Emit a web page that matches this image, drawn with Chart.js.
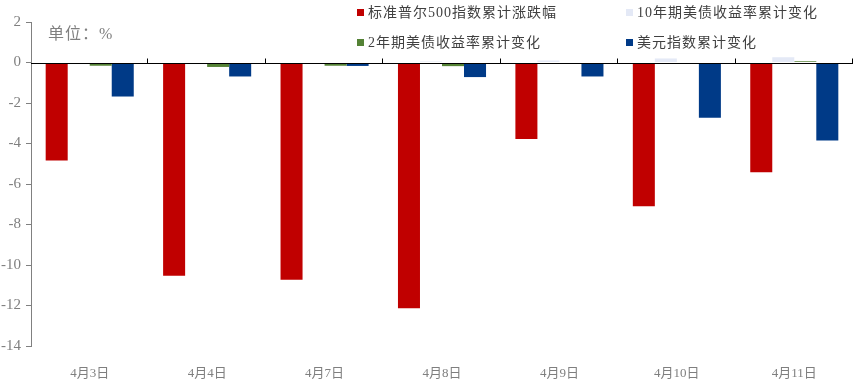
<!DOCTYPE html>
<html>
<head>
<meta charset="utf-8">
<script src="https://cdn.jsdelivr.net/npm/chart.js@4"></script>
<style>
  body { margin: 0; background: #fff; }
  #wrap { position: relative; width: 855px; height: 385px; }
  #c { position: absolute; left: 0; top: 0; }
  .lg { position: absolute; font-family: 'Liberation Serif', 'Noto Sans CJK SC', serif; font-size: 14px; color: #404040; letter-spacing: 1px; white-space: nowrap; line-height: 16px; }
  .lg i { display: inline-block; width: 7px; height: 7px; margin-right: 4px; vertical-align: 1px; }
  #unit { position: absolute; left: 48px; top: 20px; font-family: 'Liberation Serif', 'Noto Sans CJK SC', serif; font-size: 16px; color: #7f7f7f; letter-spacing: 1px; }
</style>
</head>
<body>
<div id="wrap">
  <canvas id="c" width="855" height="385"></canvas>
  <div id="unit">单位：%</div>
  <div id="legend"></div>
</div>
<script>
const fechas = ["4月3日", "4月4日", "4月7日", "4月8日", "4月9日", "4月10日", "4月11日"];
const sp500 = [-4.84, -10.53, -10.73, -12.14, -3.78, -7.10, -5.42];
const bono10 = [-0.08, -0.08, 0, 0.05, 0.1, 0.2, 0.26];
const bono2 = [-0.16, -0.22, -0.16, -0.18, 0, -0.05, 0.06];
const dolar = [-1.68, -0.69, -0.17, -0.72, -0.69, -2.73, -3.85];
const ticksY = [2, 0, -2, -4, -6, -8, -10, -12, -14];

const series = [
  { label: "标准普尔500指数累计涨跌幅", data: sp500, color: "#C00000" },
  { label: "10年期美债收益率累计变化", data: bono10, color: "#E4E9F6" },
  { label: "2年期美债收益率累计变化", data: bono2, color: "#548235" },
  { label: "美元指数累计变化", data: dolar, color: "#003A87" }
];

// Leyenda en dos filas
const posLeyenda = [[357, 5], [626, 5], [357, 35], [626, 35]];
const legendEl = document.getElementById("legend");
series.forEach((s, i) => {
  const d = document.createElement("div");
  d.className = "lg";
  d.style.left = posLeyenda[i][0] + "px";
  d.style.top = posLeyenda[i][1] + "px";
  d.innerHTML = `<i style="background:${s.color}"></i>${s.label}`;
  legendEl.appendChild(d);
});

// Linea de cero con marcas entre categorias
const lineaCero = {
  id: "lineaCero",
  afterDatasetsDraw(chart) {
    const { ctx, scales: { x, y } } = chart;
    const y0 = Math.round(y.getPixelForValue(0)) + 0.5;
    ctx.save();
    ctx.strokeStyle = "#000";
    ctx.lineWidth = 1;
    ctx.beginPath();
    ctx.moveTo(x.left, y0);
    ctx.lineTo(x.right, y0);
    const n = fechas.length;
    for (let i = 1; i <= n; i++) {
      const xx = Math.round(x.left + i * x.width / n) - 0.5;
      ctx.moveTo(xx, y0);
      ctx.lineTo(xx, y0 - 5);
    }
    ctx.stroke();
    ctx.restore();
  }
};

const fuente = "'Liberation Serif', 'Noto Sans CJK SC', serif";

new Chart(document.getElementById("c"), {
  type: "bar",
  data: {
    labels: fechas,
    datasets: series.map(s => ({
      label: s.label,
      data: s.data,
      backgroundColor: s.color,
      categoryPercentage: 0.75,
      barPercentage: 1.0
    }))
  },
  options: {
    responsive: false,
    animation: false,
    layout: { padding: { top: 22, right: 2, left: 0, bottom: 0 } },
    plugins: {
      legend: { display: false },
      tooltip: { enabled: false }
    },
    scales: {
      x: {
        grid: { display: false },
        border: { display: false },
        ticks: { color: "#7f7f7f", font: { family: fuente, size: 13 }, padding: 12 },
        afterFit: s => { s.height = 39; }
      },
      y: {
        min: -14,
        max: 2,
        afterBuildTicks: s => { s.ticks = ticksY.map(v => ({ value: v })); },
        grid: {
          drawOnChartArea: false,
          tickLength: 5,
          tickColor: "#808080"
        },
        border: { color: "#808080" },
        ticks: { color: "#7f7f7f", font: { family: fuente, size: 15 }, padding: 5 },
        afterFit: s => { s.width = 31; }
      }
    }
  },
  plugins: [lineaCero]
});
</script>
</body>
</html>
